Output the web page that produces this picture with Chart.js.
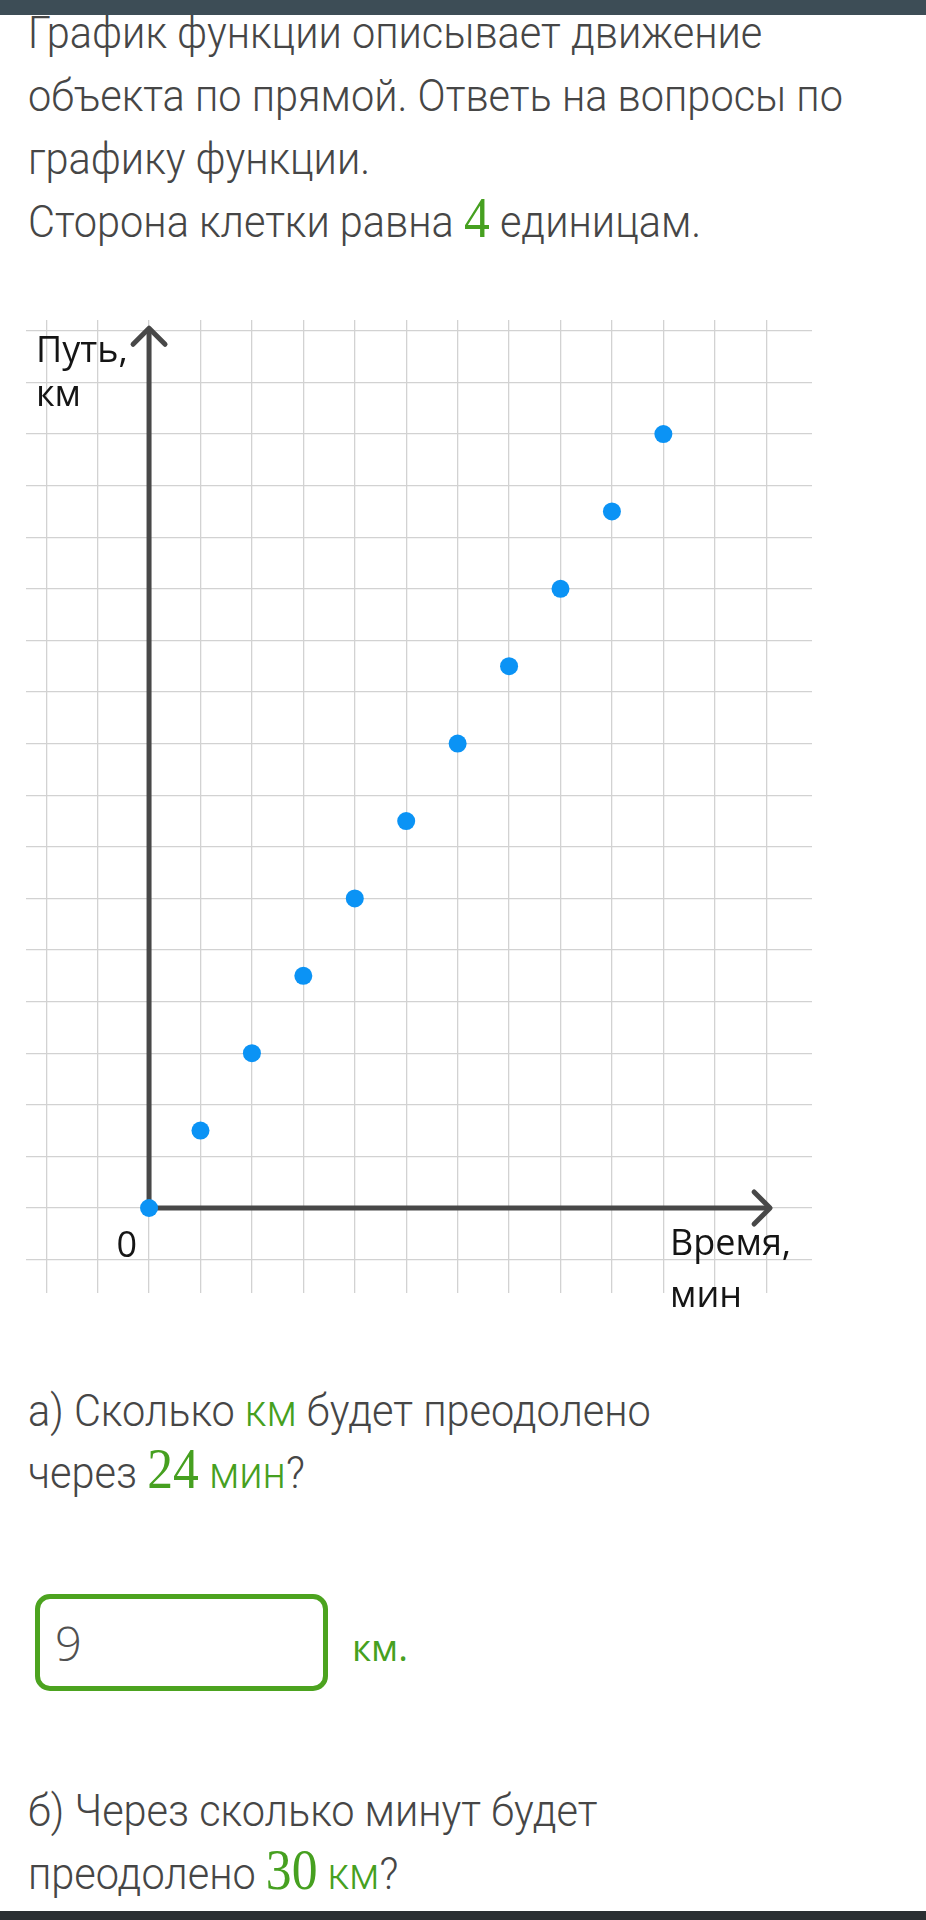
<!DOCTYPE html>
<html lang="ru">
<head>
<meta charset="utf-8">
<title>График функции</title>
<script src="https://cdn.jsdelivr.net/npm/chart.js@4.4.1/dist/chart.umd.min.js"></script>
<style>
  html, body { margin: 0; padding: 0; background: #fff; }
  body {
    width: 926px; height: 1920px; position: relative; overflow: hidden;
    font-family: Roboto, sans-serif; color: #464646;
  }
  .topbar { position: absolute; left: 0; top: 0; width: 926px; height: 15px; background: #3d4d56; z-index: 2; }
  .bottombar { position: absolute; left: 0; top: 1911px; width: 926px; height: 9px; background: #2b2f32; }
  .txt {
    position: absolute; left: 28px; font-size: 45px; font-weight: 300; line-height: 63px;
    white-space: nowrap; transform-origin: 0 0; transform: scaleX(0.922);
  }
  .plain {
    position: absolute; font-family: "Open Sans", sans-serif; line-height: 60px; white-space: nowrap;
  }
  .g { color: #46a020; }
  .num { font-family: "Liberation Serif", serif; font-size: 56px; font-weight: 400; line-height: 0; color: #46a020; }
  #chartBox { position: absolute; left: 0; top: 290px; width: 926px; height: 1040px; }
  .answer {
    position: absolute; left: 35px; top: 1594px; width: 293px; height: 97px;
    box-sizing: border-box; border: 5px solid #4ca31f; border-radius: 15px;
  }
</style>
</head>
<body>
<div class="topbar"></div>

<div class="txt" style="top:1px">
  График функции описывает движение<br>
  объекта по прямой. Ответь на вопросы по<br>
  графику функции.<br>
  Сторона клетки равна <span class="num">4</span> единицам.
</div>

<div id="chartBox"><canvas id="chart" width="926" height="1040"></canvas></div>

<div class="txt" style="top:1380px; line-height:62px">
  а) Сколько <span class="g">км</span> будет преодолено<br>
  через <span class="num">24</span> <span class="g">мин</span>?
</div>

<div class="answer"></div>
<div class="plain" style="left:55px; top:1613px; font-size:47px; font-weight:300; color:#505050">9</div>
<div class="plain g" style="left:352px; top:1617px; font-size:37px">км.</div>

<div class="txt" style="top:1779px">
  б) Через сколько минут будет<br>
  преодолено <span class="num">30</span> <span class="g">км</span>?
</div>

<div class="bottombar"></div>

<script>
// one grid cell = 4 units on both axes
const timeMin = [0, 4, 8, 12, 16, 20, 24, 28, 32, 36, 40];
const distanceKm = [0, 6, 12, 18, 24, 30, 36, 42, 48, 54, 60];

const xTicks = [-8, -4, 0, 4, 8, 12, 16, 20, 24, 28, 32, 36, 40, 44, 48];
const yTicks = [-4, 0, 4, 8, 12, 16, 20, 24, 28, 32, 36, 40, 44, 48, 52, 56, 60, 64, 68];

const GRID = '#d2d2d2';
const AXIS = '#484848';
const POINT = '#0b93f5';
const LABEL_FONT = '36px "Open Sans", sans-serif';

// dark axes with arrow heads + captions, drawn over the grid
const axesPlugin = {
  id: 'arrowAxes',
  beforeDatasetsDraw(chart) {
    const { ctx, scales: { x, y } } = chart;
    const x0 = x.getPixelForValue(0);
    const y0 = y.getPixelForValue(0);
    const xEnd = x.getPixelForValue(48.3);
    const yEnd = y.getPixelForValue(68.2);
    const a = 16;

    ctx.save();
    ctx.strokeStyle = AXIS;
    ctx.lineWidth = 5;
    ctx.lineCap = 'butt';
    ctx.beginPath();
    ctx.moveTo(x0, y0);
    ctx.lineTo(xEnd - 2, y0);
    ctx.moveTo(x0, y0);
    ctx.lineTo(x0, yEnd + 2);
    ctx.stroke();

    ctx.lineCap = 'round';
    ctx.lineJoin = 'round';
    ctx.beginPath();
    ctx.moveTo(xEnd - a, y0 - a);
    ctx.lineTo(xEnd, y0);
    ctx.lineTo(xEnd - a, y0 + a);
    ctx.moveTo(x0 - a, yEnd + a);
    ctx.lineTo(x0, yEnd);
    ctx.lineTo(x0 + a, yEnd + a);
    ctx.stroke();
    ctx.restore();
  },
  afterDraw(chart) {
    const { ctx, scales: { x, y } } = chart;
    const x0 = x.getPixelForValue(0);
    const y0 = y.getPixelForValue(0);
    const yTop = y.getPixelForValue(68.2);

    ctx.save();
    ctx.fillStyle = '#151515';
    ctx.font = LABEL_FONT;
    ctx.textBaseline = 'alphabetic';
    ctx.textAlign = 'left';
    ctx.fillText('Путь,', 36, yTop + 34);
    ctx.fillText('км', 36, yTop + 78);
    ctx.textAlign = 'right';
    ctx.fillText('0', x0 - 12, y0 + 49);
    ctx.textAlign = 'left';
    ctx.fillText('Время,', 670, y0 + 47);
    ctx.fillText('мин', 670, y0 + 99);
    ctx.restore();
  }
};

function fixedTicks(values) {
  return (scale) => { scale.ticks = values.map(v => ({ value: v })); };
}

new Chart(document.getElementById('chart'), {
  type: 'scatter',
  data: {
    datasets: [{
      data: timeMin.map((t, i) => ({ x: t, y: distanceKm[i] })),
      backgroundColor: POINT,
      borderWidth: 0,
      pointRadius: 9,
      pointHoverRadius: 9,
    }]
  },
  options: {
    responsive: false,
    animation: false,
    devicePixelRatio: 1,
    layout: { padding: { left: 26, top: 30, right: 114, bottom: 37 } },
    plugins: { legend: { display: false }, tooltip: { enabled: false } },
    scales: {
      x: {
        type: 'linear',
        min: -9.57,
        max: 51.56,
        afterBuildTicks: fixedTicks(xTicks),
        grid: { color: GRID, lineWidth: 1.3, drawTicks: false },
        border: { display: false },
        ticks: { display: false },
      },
      y: {
        type: 'linear',
        min: -6.59,
        max: 68.84,
        afterBuildTicks: fixedTicks(yTicks),
        grid: { color: GRID, lineWidth: 1.3, drawTicks: false },
        border: { display: false },
        ticks: { display: false },
      }
    }
  },
  plugins: [axesPlugin]
});
</script>
</body>
</html>
